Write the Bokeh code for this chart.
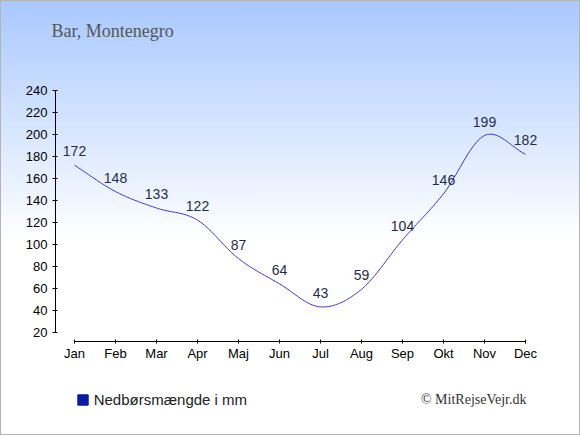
import numpy as np
from bokeh.plotting import figure
from bokeh.layouts import column
from bokeh.models import (FixedTicker, Label, Legend, LegendItem, Range1d, Title)
from bokeh.core.properties import value
from bokeh.embed import file_html
from bokeh.resources import INLINE

# ---- data ----
months = ["Jan", "Feb", "Mar", "Apr", "Maj", "Jun", "Jul", "Aug", "Sep", "Okt", "Nov", "Dec"]
rain_mm = [172, 148, 133, 122, 87, 64, 43, 59, 104, 146, 199, 182]
y_ticks = [20, 40, 60, 80, 100, 120, 140, 160, 180, 200, 220, 240]
title_text = "Bar, Montenegro"
legend_text = "Nedbørsmængde i mm"
credit_text = "© MitRejseVejr.dk"

x_idx = list(range(len(months)))

# smooth (Catmull-Rom) rendering of the line through the data points
def smooth(xs, ys, n=30):
    xs = np.asarray(xs, float); ys = np.asarray(ys, float)
    m = np.zeros_like(ys)
    m[1:-1] = (ys[2:] - ys[:-2]) / 2.0
    m[0] = ys[1] - ys[0]
    m[-1] = ys[-1] - ys[-2]
    ox, oy = [], []
    for i in range(len(xs) - 1):
        t = np.linspace(0, 1, n, endpoint=(i == len(xs) - 2))
        h00 = 2*t**3 - 3*t**2 + 1
        h10 = t**3 - 2*t**2 + t
        h01 = -2*t**3 + 3*t**2
        h11 = t**3 - t**2
        ox.extend(xs[i] + t * (xs[i+1] - xs[i]))
        oy.extend(h00*ys[i] + h10*m[i] + h01*ys[i+1] + h11*m[i+1])
    return ox, oy

cx, cy = smooth(x_idx, rain_mm)

W = 564
H_MAIN, H_FOOT = 367, 52

p = figure(width=W, height=H_MAIN, output_backend="svg", toolbar_location=None,
           x_range=Range1d(-0.4634, 11.488), y_range=Range1d(11.5, 240),
           min_border_left=47, min_border_right=27, min_border_top=82, min_border_bottom=34)
p.background_fill_color = None
p.border_fill_color = None
p.outline_line_color = None
p.grid.visible = False

# spacer title (closest to the frame), then the real title
p.add_layout(Title(text=" ", text_font_size="1px", standoff=47), "above")
p.add_layout(Title(text=title_text, align="left", offset=-4, standoff=0,
                   vertical_align="bottom",
                   text_font="Liberation Serif", text_font_size="18px",
                   text_font_style="normal", text_color="#555555"), "above")

# axes
p.xaxis.ticker = FixedTicker(ticks=x_idx)
p.xaxis.major_label_overrides = {i: m for i, m in enumerate(months)}
p.xaxis.bounds = (0, len(months) - 1)
p.yaxis.ticker = FixedTicker(ticks=y_ticks)
p.yaxis.bounds = (y_ticks[0], y_ticks[-1])
for ax in (p.xaxis, p.yaxis):
    ax.axis_line_color = "black"
    ax.major_tick_line_color = "black"
    ax.minor_tick_line_color = None
    ax.major_label_text_font = "Liberation Sans"
    ax.major_label_text_font_size = "13px"
    ax.major_label_text_color = "black"
p.xaxis.major_tick_in = 2
p.xaxis.major_tick_out = 2
p.xaxis.major_label_standoff = 2
p.yaxis.major_tick_in = 2
p.yaxis.major_tick_out = 3
p.yaxis.major_label_standoff = 5

# line and value labels
p.line(cx, cy, line_color="#3636c8", line_width=1)
p.text(x=x_idx, y=rain_mm, text=[str(v) for v in rain_mm],
       text_align="center", text_baseline="alphabetic", y_offset=-14,
       text_font=value("Liberation Sans"), text_font_size="14px", text_color="#1e2d4c")

# footer: legend and credit (frame is aligned with the main plot's frame)
f = figure(width=W, height=H_FOOT, output_backend="svg", toolbar_location=None,
           x_axis_type=None, y_axis_type=None, min_border=0,
           x_range=Range1d(0, 1), y_range=Range1d(0, 1))
f.background_fill_color = None
f.border_fill_color = None
f.outline_line_color = None
f.grid.visible = False

# legend swatch renderer (kept outside the visible range; only its legend glyph shows)
sq = f.quad(left=[-3], right=[-2], top=[-2], bottom=[-3],
            fill_color="#0a1aa6", line_color="#0a1aa6")
legend = Legend(items=[LegendItem(label=legend_text, renderers=[sq])],
                location=(20.7, 19.5), glyph_width=13, glyph_height=13,
                label_standoff=5, padding=0, margin=0, spacing=0,
                border_line_color=None, background_fill_alpha=0,
                label_text_font="Liberation Sans", label_text_font_size="15px",
                label_text_color="#222222")
f.add_layout(legend, "center")
f.add_layout(Label(x=471, y=28.5, x_units="screen", y_units="screen", text=credit_text,
                   text_font="Liberation Serif", text_font_size="14px", text_color="#333333",
                   text_baseline="alphabetic", text_align="right"))

layout = column(p, f, spacing=0)

template = """
{% block postamble %}
<style>
html { background: linear-gradient(to bottom, #a8c8ff 0px, #ffffff 240px) no-repeat, #ffffff;
       min-height: 100%; box-shadow: inset 0 0 0 1px #b4b4b4; }
body { margin: 8px; background: transparent; height: auto; }
</style>
{% endblock %}
"""

open("out.html", "w").write(file_html(layout, INLINE, template=template))
